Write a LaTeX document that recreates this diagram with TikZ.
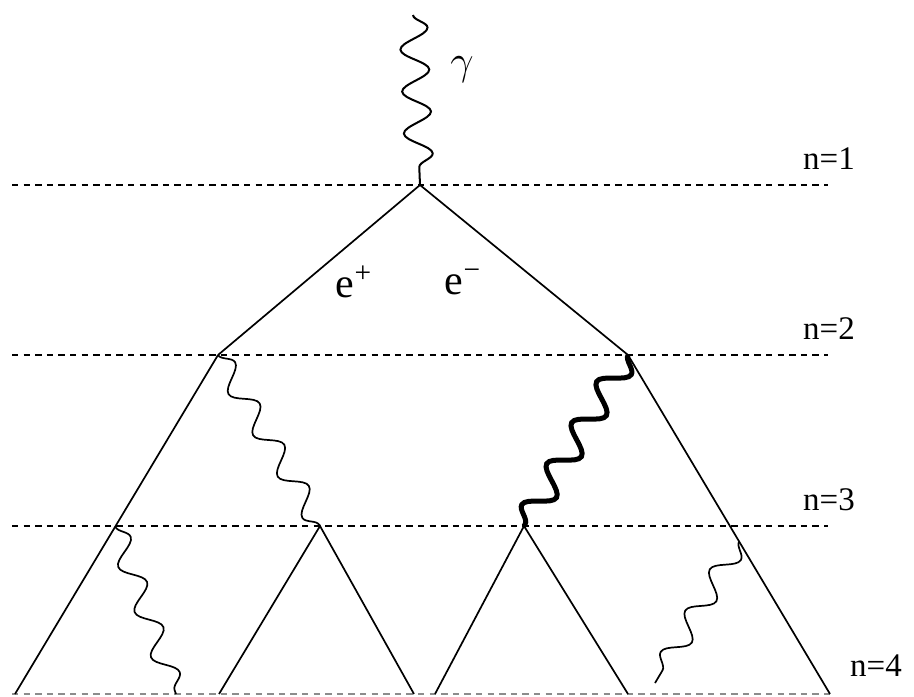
\documentclass[tikz,border=0pt]{standalone}
\usepackage{fontspec}
\setmainfont{Liberation Serif}
\usetikzlibrary{calc,decorations.pathmorphing}

\begin{document}
\begin{tikzpicture}[x=0.5pt,y=-0.5pt,
  every node/.style={font=\fontsize{16.5}{19}\selectfont},
  level/.style={line width=1pt,dash pattern=on 3.2pt off 2.6pt},
  fermion/.style={line width=0.85pt},
  photon/.style={line width=0.85pt,decorate,
    decoration={snake,amplitude=5.5pt,segment length=24pt}}]
  \useasboundingbox (0,0) rectangle (914,696);
  % levels
  \foreach \y/\n in {185/1,355/2,526/3} {
    \draw[level] (12,\y) -- (828,\y);
    \node (lab\n) at (829,\y-26) {n=\n};
  }
  \draw[level,black!45] (12,694) -- (830,694);
  \node (lab4) at (876,666) {n=4};
  % vertices
  \coordinate (gtop) at (413,15);
  \coordinate (v1) at (420,185);
  \coordinate (vL) at (218,355);
  \coordinate (vR) at (628,355);
  \coordinate (vLL) at (15,694);
  \coordinate (vRR) at (830,694);
  \coordinate (eL) at ($(vL)!0.506!(vLL)$);
  \coordinate (eR) at ($(vR)!0.55!(vRR)$);
  \coordinate (pL) at (176,694);
  \coordinate (pR) at (655,683);
  \coordinate (vA) at (320,526);
  \coordinate (vA1) at (219,694);
  \coordinate (vA2) at (414,694);
  \coordinate (vB) at (524,526);
  \coordinate (vB1) at (435,694);
  \coordinate (vB2) at (628,694);
  % pair
  \draw[photon,line width=1pt,decoration={amplitude=7pt,segment length=21pt}] (gtop) -- (v1);
  \draw[fermion] (vL) -- (v1) -- (vR);
  \draw[fermion] (vLL) -- (vL);
  \draw[fermion] (vR) -- (vRR);
  % second generation
  \draw[photon] (vL) -- (vA);
  \draw[photon,line width=2.5pt,decoration={amplitude=6.5pt}] (vR) -- (vB);
  \draw[photon] (eL) -- (pL);
  \draw[photon] (eR) -- (pR);
  \draw[fermion] (vA1) -- (vA) -- (vA2);
  \draw[fermion] (vB1) -- (vB) -- (vB2);
  % labels
  \node[font=\fontsize{22}{26}\selectfont] (gam) at (462,70) {$\gamma$};
  \node[font=\fontsize{21}{25}\selectfont] (epos) at (354,282) {e\textsuperscript{+}};
  \node[font=\fontsize{21}{25}\selectfont] (eneg) at (463,282) {e\textsuperscript{−}};
\end{tikzpicture}
\end{document}
